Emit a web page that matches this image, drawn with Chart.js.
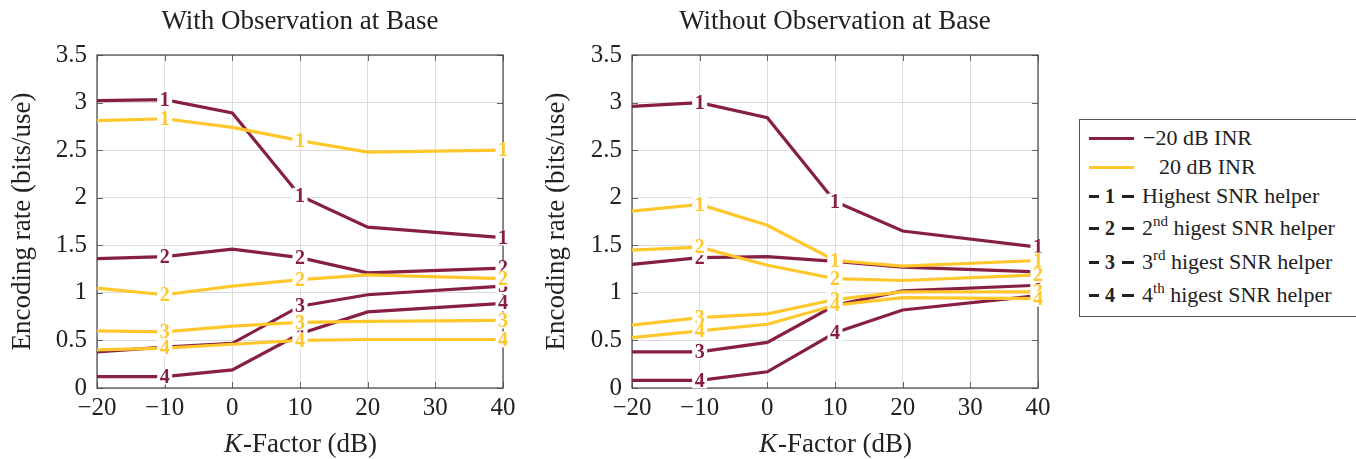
<!DOCTYPE html>
<html><head><meta charset="utf-8">
<script src="https://cdn.jsdelivr.net/npm/chart.js@4.4.1/dist/chart.umd.min.js"></script>
<style>
html,body{margin:0;padding:0;background:#fff;}
body{width:1356px;height:459px;overflow:hidden;position:relative;font-family:"Liberation Serif","Times New Roman",serif;color:#222;}
.wrap{position:absolute;top:0;height:459px;}
#w1{left:0;width:530px;}
#w2{left:540px;width:520px;}
#legend{position:absolute;left:1079px;top:119px;width:300px;height:196px;border:1px solid #555;background:#fff;}
.ln{position:absolute;height:3px;}
.tx{position:absolute;font-size:22px;line-height:22px;white-space:nowrap;}
.tx sup{font-size:15px;line-height:0;vertical-align:0;position:relative;top:-9px;}
.num{position:absolute;font-size:20px;font-weight:bold;line-height:20px;width:20px;text-align:center;}
</style>
</head><body>
<div class="wrap" id="w1"><canvas id="c1" width="530" height="459"></canvas></div>
<div class="wrap" id="w2"><canvas id="c2" width="520" height="459"></canvas></div>
<div id="legend"></div>
<script>
// ---- data ----
const kFactor = [-20, -10, 0, 10, 20, 40];
const xTicks = [-20, -10, 0, 10, 20, 30, 40];
const yTicks = [0, 0.5, 1, 1.5, 2, 2.5, 3, 3.5];
const markerIdx = [1, 3, 5];
const helperRank = ['1', '2', '3', '4'];

// With observation at base
const withLow1  = [3.02, 3.03, 2.89, 2.02, 1.69, 1.58];
const withLow2  = [1.36, 1.38, 1.46, 1.37, 1.21, 1.26];
const withLow3  = [0.38, 0.43, 0.47, 0.86, 0.98, 1.07];
const withLow4  = [0.12, 0.12, 0.19, 0.57, 0.80, 0.89];
const withHigh1 = [2.81, 2.83, 2.74, 2.60, 2.48, 2.50];
const withHigh2 = [1.05, 0.98, 1.07, 1.14, 1.19, 1.15];
const withHigh3 = [0.60, 0.59, 0.65, 0.69, 0.70, 0.71];
const withHigh4 = [0.40, 0.42, 0.46, 0.50, 0.51, 0.51];

// Without observation at base
const woLow1  = [2.96, 3.00, 2.84, 1.96, 1.65, 1.48];
const woLow2  = [1.30, 1.37, 1.38, 1.33, 1.27, 1.22];
const woLow3  = [0.38, 0.38, 0.48, 0.87, 1.02, 1.08];
const woLow4  = [0.08, 0.08, 0.17, 0.58, 0.82, 0.97];
const woHigh1 = [1.86, 1.93, 1.71, 1.34, 1.28, 1.34];
const woHigh2 = [1.45, 1.48, 1.29, 1.15, 1.13, 1.19];
const woHigh3 = [0.66, 0.74, 0.78, 0.93, 1.01, 1.01];
const woHigh4 = [0.53, 0.60, 0.67, 0.87, 0.95, 0.94];

const titles = ['With Observation at Base', 'Without Observation at Base'];
const seriesNames = ['\u221220 dB INR', '20 dB INR'];
const helperNames = ['Highest SNR helper', 'higest SNR helper'];

// ---- styles ----
const MAROON = '#861F41';
const GOLD = '#FFC72C';
const SERIF = '"Liberation Serif", "Times New Roman", serif';

function makeDatasets(low, high) {
  const out = [];
  low.forEach((arr, i) => out.push({ label: '-20 ' + helperRank[i], mark: helperRank[i], data: arr.map((v, j) => ({x: kFactor[j], y: v})), borderColor: MAROON, order: 8 - i }));
  high.forEach((arr, i) => out.push({ label: '20 ' + helperRank[i], mark: helperRank[i], data: arr.map((v, j) => ({x: kFactor[j], y: v})), borderColor: GOLD, order: 4 - i }));
  out.forEach(d => { d.borderWidth = 3.2; d.pointRadius = 0; d.tension = 0; d.fill = false; d.clip = 4; });
  return out;
}

const markPlugin = {
  id: 'marks',
  afterDatasetDraw(chart, args) {
    const ds = chart.data.datasets[args.index];
    const meta = args.meta;
    const ctx = chart.ctx;
    ctx.save();
    ctx.font = 'bold 20px ' + SERIF;
    ctx.textAlign = 'center';
    ctx.textBaseline = 'middle';
    markerIdx.forEach(i => {
      const p = meta.data[i];
      if (!p) return;
      const w = ctx.measureText(ds.mark).width + 5;
      ctx.fillStyle = '#fff';
      ctx.fillRect(p.x - w / 2, p.y - 8, w, 16);
      ctx.fillStyle = ds.borderColor;
      ctx.fillText(ds.mark, p.x, p.y + 1);
    });
    ctx.restore();
  }
};

const framePlugin = {
  id: 'frame',
  beforeDatasetsDraw(chart) {
    const {ctx, chartArea: a, scales} = chart;
    ctx.save();
    ctx.strokeStyle = '#666';
    ctx.lineWidth = 1;
    ctx.beginPath();
    xTicks.forEach(v => {
      const px = Math.round(scales.x.getPixelForValue(v)) + 0.5;
      ctx.moveTo(px, a.bottom); ctx.lineTo(px, a.bottom - 6);
      ctx.moveTo(px, a.top); ctx.lineTo(px, a.top + 6);
    });
    yTicks.forEach(v => {
      const py = Math.round(scales.y.getPixelForValue(v)) + 0.5;
      ctx.moveTo(a.left, py); ctx.lineTo(a.left + 6, py);
      ctx.moveTo(a.right, py); ctx.lineTo(a.right - 6, py);
    });
    ctx.stroke();
    ctx.strokeStyle = '#444';
    ctx.lineWidth = 1.2;
    ctx.strokeRect(a.left, a.top, a.right - a.left, a.bottom - a.top);
    ctx.restore();
  },
  afterDraw(chart) {
    const {ctx, chartArea: a} = chart;
    const cx = (a.left + a.right) / 2;
    ctx.save();
    ctx.fillStyle = '#222';
    ctx.textBaseline = 'middle';
    ctx.textAlign = 'center';
    ctx.font = '27px ' + SERIF;
    ctx.fillText(chart.options.plugins.frame.title, cx, 22);
    // x axis title with italic K
    const k = 'K', rest = '-Factor (dB)';
    ctx.font = 'italic 27px ' + SERIF;
    const wk = ctx.measureText(k).width;
    ctx.font = '27px ' + SERIF;
    const wr = ctx.measureText(rest).width;
    const x0 = cx - (wk + wr) / 2;
    ctx.textAlign = 'left';
    ctx.font = 'italic 27px ' + SERIF;
    ctx.fillText(k, x0, 445);
    ctx.font = '27px ' + SERIF;
    ctx.fillText(rest, x0 + wk + 1, 445);
    ctx.restore();
  }
};

function makeChart(id, low, high, title, yWidth, padRight, yTitlePad) {
  return new Chart(document.getElementById(id), {
    type: 'line',
    data: { datasets: makeDatasets(low, high) },
    plugins: [markPlugin, framePlugin],
    options: {
      responsive: false,
      animation: false,
      events: [],
      layout: { padding: { top: 55, right: padRight, left: 0, bottom: 0 } },
      plugins: { legend: { display: false }, tooltip: { enabled: false }, title: { display: false }, frame: { title: title } },
      scales: {
        x: {
          type: 'linear', min: -20, max: 40,
          afterBuildTicks: s => { s.ticks = xTicks.map(v => ({value: v})); },
          afterFit: s => { s.height = 71; },
          grid: { color: '#dcdcdc', lineWidth: 1, drawTicks: false },
          border: { display: false },
          ticks: { color: '#222', font: { family: SERIF, size: 25 }, padding: 5, maxRotation: 0,
                   callback: v => v < 0 ? '\u2212' + Math.abs(v) : String(v) }
        },
        y: {
          type: 'linear', min: 0, max: 3.5,
          afterBuildTicks: s => { s.ticks = yTicks.map(v => ({value: v})); },
          afterFit: s => { s.width = yWidth; },
          grid: { color: '#dcdcdc', lineWidth: 1, drawTicks: false },
          border: { display: false },
          ticks: { color: '#222', font: { family: SERIF, size: 25 }, padding: 10, callback: v => String(v) },
          title: { display: true, text: 'Encoding rate (bits/use)', color: '#222', font: { family: SERIF, size: 27 }, padding: { top: yTitlePad, bottom: 0 } }
        }
      }
    }
  });
}

makeChart('c1', [withLow1, withLow2, withLow3, withLow4], [withHigh1, withHigh2, withHigh3, withHigh4], titles[0], 97, 27, 7);
makeChart('c2', [woLow1, woLow2, woLow3, woLow4], [woHigh1, woHigh2, woHigh3, woHigh4], titles[1], 92, 22, 1);

// ---- legend (HTML) ----
const lg = document.body;
function add(html) { const d = document.createElement('div'); d.innerHTML = html; lg.appendChild(d.firstChild); }
const rowY = [138, 167, 196, 228, 262, 295];
add(`<div class="ln" style="left:1089px;top:${rowY[0]-1.5}px;width:45px;background:${MAROON}"></div>`);
add(`<div class="tx" style="left:1143px;top:${rowY[0]-11}px">${seriesNames[0]}</div>`);
add(`<div class="ln" style="left:1089px;top:${rowY[1]-1.5}px;width:45px;background:${GOLD}"></div>`);
add(`<div class="tx" style="left:1159px;top:${rowY[1]-11}px">${seriesNames[1]}</div>`);
const sups = ['', 'nd', 'rd', 'th'];
helperRank.forEach((r, i) => {
  const y = rowY[2 + i];
  add(`<div class="ln" style="left:1089px;top:${y-1.5}px;width:10px;background:#222"></div>`);
  add(`<div class="num" style="left:1100px;top:${y-10}px">${r}</div>`);
  add(`<div class="ln" style="left:1122px;top:${y-1.5}px;width:12px;background:#222"></div>`);
  const txt = i === 0 ? helperNames[0] : `${r}<sup>${sups[i]}</sup> ${helperNames[1]}`;
  add(`<div class="tx" style="left:1142px;top:${y-11}px">${txt}</div>`);
});
</script>
</body></html>
